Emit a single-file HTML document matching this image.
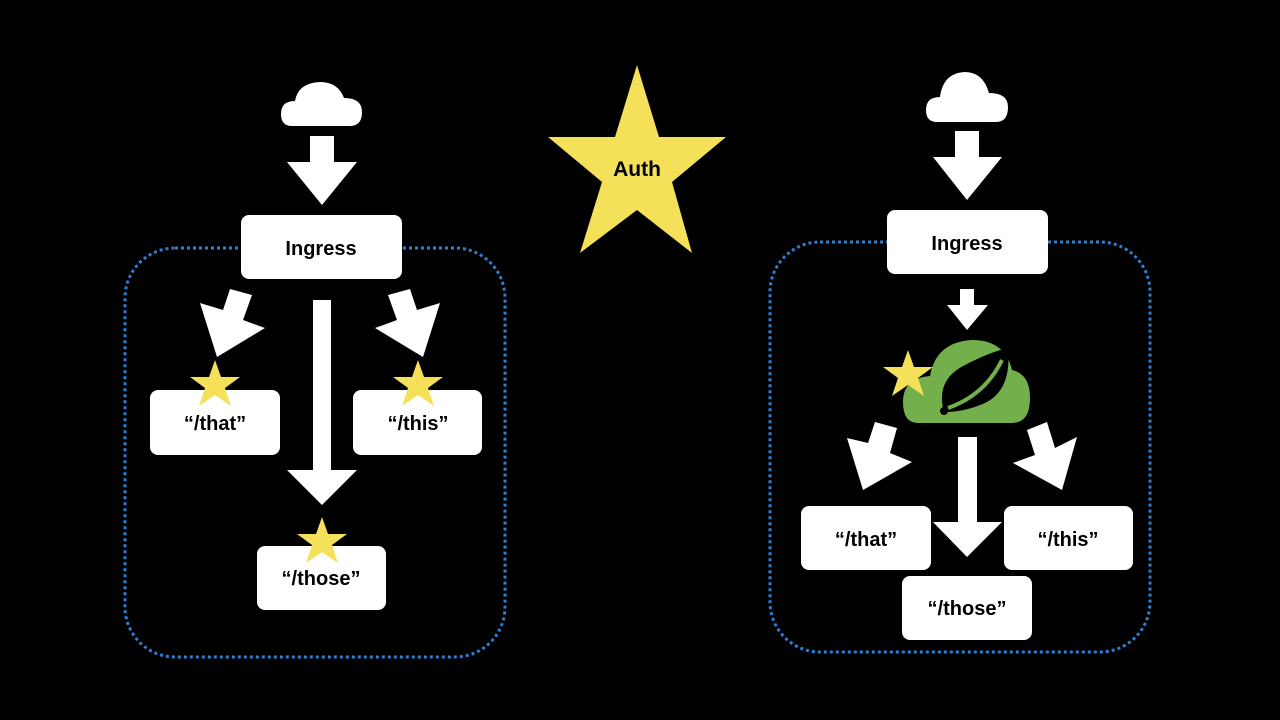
<!DOCTYPE html>
<html><head><meta charset="utf-8"><style>
html,body{margin:0;padding:0;background:#000;}
svg{display:block}
text{font-family:"Liberation Sans",Arial,sans-serif;font-weight:bold;fill:#000;text-anchor:middle}
</style></head><body>
<svg width="1280" height="720" viewBox="0 0 1280 720" xmlns="http://www.w3.org/2000/svg">
<rect width="1280" height="720" fill="#000"/>
<rect x="125" y="248" width="380" height="409" rx="50" fill="none" stroke="#2f7fd0" stroke-width="3" stroke-dasharray="3 3"/>
<rect x="770" y="242" width="380" height="410" rx="50" fill="none" stroke="#2f7fd0" stroke-width="3" stroke-dasharray="3 3"/>

<!-- LEFT -->
<g fill="#fff">
<path d="M292,126 Q281,126 281,114 Q281,101 295,101 Q298,83 320,82 Q338,82 344,98 Q362,98 362,112 Q362,126 350,126 Z"/>
<polygon points="310,136 334,136 334,162 357,162 322,205 287,162 310,162"/>
<rect x="241" y="215" width="161" height="64" rx="8"/>
<polygon points="230,289 252,295 243,320 265,328 217,357 200,303 223,310"/>
<polygon points="410,289 388,295 397,320 375,328 423,357 440,303 417,310"/>
<polygon points="313,300 331,300 331,470 357,470 322,505 287,470 313,470"/>
<rect x="150" y="390" width="130" height="65" rx="8"/>
<rect x="353" y="390" width="129" height="65" rx="8"/>
<rect x="257" y="546" width="129" height="64" rx="8"/>
</g>
<text x="321" y="255" font-size="20">Ingress</text>
<text x="215" y="430" font-size="20">“/that”</text>
<text x="418" y="430" font-size="20">“/this”</text>
<text x="321" y="585" font-size="20">“/those”</text>

<g fill="#f5e05a">
<polygon points="215,360 221,377 240,377 225,388 231,406 215,395 199,406 205,388 190,377 209,377"/>
<polygon points="418,360 424,377 443,377 428,388 434,406 418,395 402,406 408,388 393,377 412,377"/>
<polygon points="322,517 328,534 347,534 332,545 338,563 322,552 306,563 312,545 297,534 316,534"/>
<polygon points="637,65 659,137 726,137 672,182 692,253 637,210 580,253 602,182 548,137 615,137"/>
</g>
<text x="637" y="176" font-size="21">Auth</text>

<!-- RIGHT -->
<g fill="#fff">
<path d="M937,122 Q926,122 926,110 Q926,97 940,97 Q943,73 965,72 Q983,72 989,93 Q1008,93 1008,107 Q1008,122 996,122 Z"/>
<polygon points="955,131 979,131 979,157 1002,157 967,200 933,157 955,157"/>
<rect x="887" y="210" width="161" height="64" rx="8"/>
<polygon points="960,289 974,289 974,305 988,305 967,330 947,305 960,305"/>
<polygon points="958,437 977,437 977,522 1002,522 967,557 933,522 958,522"/>
<polygon points="875,422 897,428 890,453 912,462 863,490 847,438 868,443"/>
<polygon points="1047,422 1027,430 1035,455 1013,463 1062,490 1077,437 1055,448"/>
<rect x="801" y="506" width="130" height="64" rx="8"/>
<rect x="1004" y="506" width="129" height="64" rx="8"/>
<rect x="902" y="576" width="130" height="64" rx="8"/>
</g>
<text x="967" y="250" font-size="20">Ingress</text>
<text x="866" y="546" font-size="20">“/that”</text>
<text x="1068" y="546" font-size="20">“/this”</text>
<text x="967" y="615" font-size="20">“/those”</text>

<path d="M918,423 Q903,423 903,402 Q903,378 930,376 Q936,342 972,340 Q1005,340 1012,370 Q1030,374 1030,398 Q1030,423 1012,423 Z" fill="#73b04b"/>
<path d="M944,412 Q935,380 965,365 Q990,352 1008,348 Q1012,390 985,403 Q965,412 944,412 Z" fill="#000"/>
<path d="M948,408 Q985,395 1002,360" stroke="#73b04b" stroke-width="4" fill="none"/>
<circle cx="944" cy="411" r="4" fill="#000"/>
<polygon points="908,350 914,367 933,367 918,378 924,396 908,385 892,396 898,378 883,367 902,367" fill="#f5e05a"/>
</svg>
</body></html>
